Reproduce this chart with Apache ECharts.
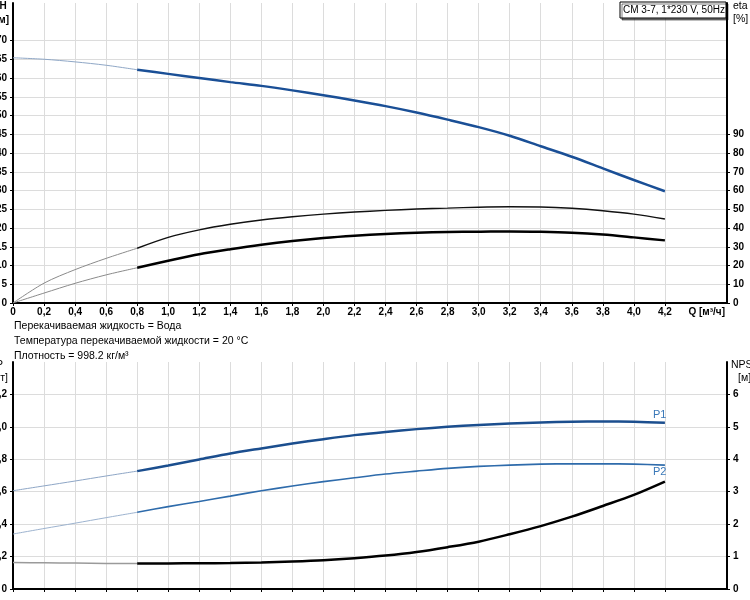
<!DOCTYPE html>
<html>
<head>
<meta charset="utf-8">
<script src="https://cdn.jsdelivr.net/npm/echarts@6/dist/echarts.min.js"></script>
<style>
  html, body { margin: 0; padding: 0; background: #fff; }
  #main { width: 750px; height: 600px; }
</style>
</head>
<body>
<div id="main"></div>
<script>
// flow points: thin start section and main section
const qStart = [0, 0.2, 0.4, 0.6, 0.8];
const qMain = [0.8, 1.0, 1.2, 1.4, 1.6, 1.8, 2.0, 2.2, 2.4, 2.6, 2.8, 3.0, 3.2, 3.4, 3.6, 3.8, 4.0, 4.2];

// head H [m]
const hStart = [65.4, 65.0, 64.3, 63.4, 62.2];
const hMain = [62.2, 61.1, 60.0, 58.9, 57.9, 56.7, 55.4, 54.0, 52.5, 50.8, 48.9, 46.9, 44.6, 41.8, 39.0, 35.9, 32.8, 29.8];

// efficiency eta [%]
const etaPumpStart = [0, 10.6, 17.8, 23.8, 29.2];
const etaPumpMain = [29.2, 35.0, 39.0, 42.0, 44.3, 46.0, 47.4, 48.5, 49.4, 50.1, 50.6, 51.1, 51.3, 51.2, 50.5, 49.2, 47.4, 44.8];
const etaTotalStart = [0, 5.3, 10.5, 15.0, 18.8];
const etaTotalMain = [18.8, 22.5, 26.0, 28.7, 31.1, 33.1, 34.7, 35.9, 36.8, 37.5, 37.9, 38.0, 38.2, 38.0, 37.5, 36.5, 35.0, 33.4];

// power P1, P2 [kW]
const p1Start = [0.606, 0.636, 0.666, 0.697, 0.727];
const p1Main = [0.727, 0.762, 0.799, 0.836, 0.867, 0.897, 0.924, 0.949, 0.969, 0.986, 1.0, 1.012, 1.021, 1.027, 1.031, 1.033, 1.031, 1.025];
const p2Start = [0.339, 0.373, 0.406, 0.440, 0.473];
const p2Main = [0.473, 0.508, 0.540, 0.573, 0.606, 0.635, 0.662, 0.686, 0.709, 0.727, 0.744, 0.756, 0.764, 0.770, 0.772, 0.772, 0.770, 0.764];

// NPSH [m]
const npshStart = [0.815, 0.81, 0.80, 0.79, 0.785];
const npshMain = [0.785, 0.79, 0.795, 0.80, 0.815, 0.846, 0.887, 0.949, 1.03, 1.14, 1.29, 1.46, 1.69, 1.94, 2.23, 2.56, 2.90, 3.31];

// labelled tick values
const qTicks = [0, 0.2, 0.4, 0.6, 0.8, 1.0, 1.2, 1.4, 1.6, 1.8, 2.0, 2.2, 2.4, 2.6, 2.8, 3.0, 3.2, 3.4, 3.6, 3.8, 4.0, 4.2];
const hTicks = [0, 5, 10, 15, 20, 25, 30, 35, 40, 45, 50, 55, 60, 65, 70];
const etaTicks = [0, 10, 20, 30, 40, 50, 60, 70, 80, 90];
const pTicks = [0, 0.2, 0.4, 0.6, 0.8, 1.0, 1.2];
const npshTicks = [0, 1, 2, 3, 4, 5, 6];

const infoLines = [
  "Перекачиваемая жидкость = Вода",
  "Температура перекачиваемой жидкости = 20 °C",
  "Плотность = 998.2 кг/м³",
];

const FONT = "Liberation Sans";
const pair = (xs, ys) => xs.map((x, i) => [x, ys[i]]);
const comma = (v) => {
  const r = Math.round(v * 10) / 10;
  return r === 0 ? "0" : r.toFixed(1).replace(".", ",");
};

const chart = echarts.init(document.getElementById("main"), null, { renderer: "canvas" });

const labelStyle = { color: "#000", fontFamily: FONT, fontSize: 10, fontWeight: "bold" };
const gridLine = { show: true, lineStyle: { color: "#dcdcdc", width: 1 } };
const axisLine = { show: true, onZero: false, lineStyle: { color: "#000", width: 2 } };
const tickStyle = { show: true, length: 3, lineStyle: { color: "#000", width: 1 } };

function xAxisFor(gridIndex, showLabels) {
  return {
    type: "value",
    gridIndex,
    min: 0,
    max: 4.6,
    interval: 0.2,
    axisLine,
    axisTick: { ...tickStyle, customValues: qTicks },
    splitLine: gridLine,
    axisLabel: {
      show: showLabels,
      margin: 4,
      ...labelStyle,
      customValues: qTicks,
      formatter: comma,
    },
  };
}

function yAxisFor(gridIndex, position, max, interval, ticks, fmt, grid) {
  return {
    type: "value",
    gridIndex,
    position,
    min: 0,
    max,
    interval,
    axisLine,
    axisTick: { ...tickStyle, customValues: ticks },
    splitLine: grid ? gridLine : { show: false },
    axisLabel: { margin: 6, ...labelStyle, customValues: ticks, formatter: fmt },
  };
}

function line(name, x, y, data, color, width) {
  return {
    name,
    type: "line",
    xAxisIndex: x,
    yAxisIndex: y,
    data,
    smooth: 0.3,
    showSymbol: false,
    lineStyle: { color, width },
    z: 3,
  };
}

function txt(x, y, text, align, extra) {
  return {
    type: "text",
    x,
    y,
    style: {
      text,
      fill: "#000",
      font: "10.5px " + FONT,
      textAlign: align || "left",
      textVerticalAlign: "middle",
      ...(extra || {}),
    },
  };
}

const p1Series = line("P1", 1, 2, pair(qMain, p1Main), "#1b4e8e", 2.5);
p1Series.endLabel = { show: true, formatter: "P1", offset: [-20, -8], color: "#3a78b8", fontFamily: FONT, fontSize: 11 };
const p2Series = line("P2", 1, 2, pair(qMain, p2Main), "#2e6bab", 1.6);
p2Series.endLabel = { show: true, formatter: "P2", offset: [-20, 7], color: "#3a78b8", fontFamily: FONT, fontSize: 11 };

const option = {
  animation: false,
  backgroundColor: "#fff",
  grid: [
    { left: 13, right: 23, top: 3, height: 300, outerBoundsMode: "none", containLabel: false },
    { left: 13, right: 23, top: 362, height: 227, outerBoundsMode: "none", containLabel: false },
  ],
  xAxis: [xAxisFor(0, true), xAxisFor(1, false)],
  yAxis: [
    yAxisFor(0, "left", 80, 5, hTicks, (v) => String(v), true),
    yAxisFor(0, "right", 160, 10, etaTicks, (v) => String(v), false),
    yAxisFor(1, "left", 1.4, 0.2, pTicks, comma, true),
    yAxisFor(1, "right", 7, 1, npshTicks, (v) => String(v), false),
  ],
  series: [
    line("H start", 0, 0, pair(qStart, hStart), "#8fa7c6", 1),
    line("H", 0, 0, pair(qMain, hMain), "#1a4f96", 2.5),
    line("eta start", 0, 1, pair(qStart, etaPumpStart), "#8a8a8a", 1),
    line("eta", 0, 1, pair(qMain, etaPumpMain), "#111", 1.5),
    line("eta tot start", 0, 1, pair(qStart, etaTotalStart), "#8a8a8a", 1),
    line("eta tot", 0, 1, pair(qMain, etaTotalMain), "#000", 2.5),
    line("P1 start", 1, 2, pair(qStart, p1Start), "#8ea6c6", 1),
    p1Series,
    line("P2 start", 1, 2, pair(qStart, p2Start), "#9db3cf", 1),
    p2Series,
    line("NPSH start", 1, 3, pair(qStart, npshStart), "#9a9a9a", 1.5),
    line("NPSH", 1, 3, pair(qMain, npshMain), "#000", 2.5),
  ],
  graphic: [
    {
      type: "rect",
      shape: { x: 620, y: 2, width: 106, height: 16 },
      style: { fill: "#fff", stroke: "#000", lineWidth: 1, shadowColor: "rgba(0,0,0,0.5)", shadowOffsetX: 2, shadowOffsetY: 2, shadowBlur: 0 },
      z: 10,
    },
    { ...txt(623, 10.5, "CM 3-7, 1*230 V, 50Hz", "left", { font: "10px " + FONT }), z: 11 },
    txt(3, 6, "H", "center", { font: "bold 10px " + FONT }),
    txt(9, 20, "[м]", "right", { font: "bold 10px " + FONT }),
    txt(733, 6, "eta"),
    txt(733, 19, "[%]"),
    txt(725, 312, "Q [м³/ч]", "right", { font: "bold 10px " + FONT }),
    txt(3, 365, "P", "right"),
    txt(8, 378, "[кВт]", "right"),
    txt(731, 365, "NPSH"),
    txt(738, 378, "[м]"),
    txt(14, 326, infoLines[0]),
    txt(14, 341, infoLines[1]),
    txt(14, 356, infoLines[2]),
  ],
};

chart.setOption(option);
</script>
</body>
</html>
